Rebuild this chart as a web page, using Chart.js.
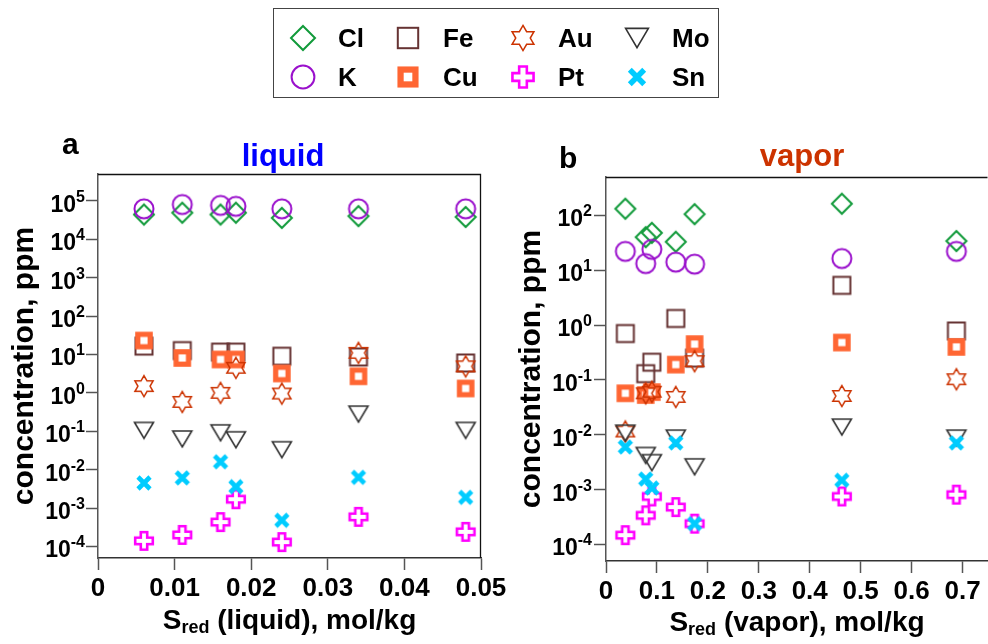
<!DOCTYPE html>
<html>
<head>
<meta charset="utf-8">
<script src="https://cdn.jsdelivr.net/npm/chart.js@4.4.1/dist/chart.umd.min.js"></script>
<style>
  body { margin: 0; background: #fff; width: 988px; height: 644px; overflow: hidden; position: relative;
         font-family: "Liberation Sans", Arial, sans-serif; }
  #chartA { position: absolute; left: 0; top: 0; }
  #chartB { position: absolute; left: 500px; top: 0; }
  #legend { position: absolute; left: 273px; top: 8px; width: 446px; height: 90px;
            border: 1.5px solid #444; box-sizing: border-box; }
  .lab { position: absolute; font-weight: bold; font-size: 26px; line-height: 26px; color: #000; white-space: nowrap; }
  .mk { position: absolute; }
</style>
</head>
<body>
<canvas id="chartA" width="520" height="644"></canvas>
<canvas id="chartB" width="488" height="644"></canvas>
<div id="legend"></div>
<script>
// ---- data ----
const elements = ["Cl", "K", "Fe", "Cu", "Au", "Pt", "Mo", "Sn"];

const xLiquid = [0.006, 0.011, 0.016, 0.018, 0.024, 0.034, 0.048];
const liqCl = [44000, 49000, 44000, 49000, 36000, 40000, 38000];
const liqK  = [62000, 80000, 76000, 72000, 62000, 62000, 62000];
const liqFe = [16.5, 12.6, 11.5, 11.5, 9, 8.6, 6];
const liqCu = [23, 8.1, 7.4, 7.4, 3.2, 2.7, 1.3];
const liqAu = [1.5, 0.58, 1.0, 4.5, 0.96, 11, 4.9];
const liqPt = [0.00014, 0.0002, 0.00043, 0.0017, 0.00013, 0.00059, 0.00024];
const liqMo = [0.105, 0.063, 0.091, 0.06, 0.033, 0.28, 0.105];
const liqSn = [0.0045, 0.0061, 0.016, 0.0036, 0.00048, 0.0063, 0.0019];

const xVapor = [0.038, 0.078, 0.09, 0.137, 0.174, 0.463, 0.688];
const vapCl = [132, 40, 48, 33, 105, 163, 34];
const vapK  = [22, 13.2, 24, 14, 12.9, 16.3, 22];
const vapFe = [0.7, 0.13, 0.21, 1.32, 0.25, 5.3, 0.78];
const vapCu = [0.057, 0.053, 0.06, 0.19, 0.45, 0.48, 0.4];
const vapAu = [0.0115, 0.057, 0.061, 0.049, 0.22, 0.051, 0.103];
const vapPt = [0.000148, 0.00034, 0.00075, 0.00048, 0.00024, 0.00075, 0.00081];
const vapMo = [0.0107, 0.0042, 0.0031, 0.0087, 0.0026, 0.0138, 0.0087];
const vapSn = [0.006, 0.00156, 0.00107, 0.0071, 0.00024, 0.00148, 0.0071];

const liqXTicks = [0, 0.01, 0.02, 0.03, 0.04, 0.05];
const vapXTicks = [0, 0.1, 0.2, 0.3, 0.4, 0.5, 0.6, 0.7];
const liqYTicks = [1e-4, 1e-3, 1e-2, 1e-1, 1e0, 1e1, 1e2, 1e3, 1e4, 1e5];
const vapYTicks = [1e-4, 1e-3, 1e-2, 1e-1, 1e0, 1e1, 1e2];

// ---- marker styles ----
const FONT = '"Liberation Sans", Arial, sans-serif';
Chart.defaults.font.family = FONT;

const colors = { Cl: "#119a3a", K: "#9a10cc", Fe: "#663333", Cu: "#ff6633",
                 Au: "#cc3300", Pt: "#ff00ff", Mo: "#333333", Sn: "#00ccff" };
const zOrder = { Cl: 8, K: 7, Fe: 6, Cu: 5, Au: 4, Mo: 3, Pt: 2, Sn: 1 };

function makeMarker(el, k) {
  const size = Math.ceil(28 * k);
  const cv = document.createElement("canvas");
  cv.width = size; cv.height = size;
  const g = cv.getContext("2d");
  const c = size / 2;
  g.strokeStyle = colors[el];
  g.fillStyle = colors[el];
  g.beginPath();
  if (el === "Cl") {
    const r = 10 * k;
    g.lineWidth = 2;
    g.moveTo(c, c - r); g.lineTo(c + r, c); g.lineTo(c, c + r); g.lineTo(c - r, c); g.closePath();
    g.stroke();
  } else if (el === "K") {
    g.lineWidth = 2;
    g.arc(c, c, 9.5 * k, 0, Math.PI * 2);
    g.stroke();
  } else if (el === "Fe") {
    const h = 8.5 * k;
    g.lineWidth = 2;
    g.strokeRect(c - h, c - h, 2 * h, 2 * h);
  } else if (el === "Cu") {
    const h = 8.8 * k, hole = 3.6 * k;
    g.fillRect(c - h, c - h, 2 * h, 2 * h);
    g.fillStyle = "#fff";
    g.fillRect(c - hole, c - hole, 2 * hole, 2 * hole);
  } else if (el === "Au") {
    const R = 10.5 * k, r = R / Math.sqrt(3);
    g.lineWidth = 1.5;
    for (let i = 0; i < 12; i++) {
      const a = -Math.PI / 2 + i * Math.PI / 6;
      const rr = i % 2 === 0 ? R : r;
      const px = c + rr * Math.cos(a), py = c + rr * Math.sin(a);
      i === 0 ? g.moveTo(px, py) : g.lineTo(px, py);
    }
    g.closePath();
    g.stroke();
  } else if (el === "Mo") {
    const w = 9.5 * k, h = 8 * k;
    g.lineWidth = 1.6;
    g.moveTo(c - w, c - h); g.lineTo(c + w, c - h); g.lineTo(c, c + h); g.closePath();
    g.stroke();
  } else if (el === "Pt") {
    const L = 8.8 * k, a = 3.2 * k;
    g.lineWidth = 2.6;
    const pts = [[-a, -L], [a, -L], [a, -a], [L, -a], [L, a], [a, a], [a, L], [-a, L], [-a, a], [-L, a], [-L, -a], [-a, -a]];
    pts.forEach((p, i) => i === 0 ? g.moveTo(c + p[0], c + p[1]) : g.lineTo(c + p[0], c + p[1]));
    g.closePath();
    g.stroke();
  } else if (el === "Sn") {
    const h = 6 * k;
    g.lineWidth = 4.6 * k;
    g.moveTo(c - h, c - h); g.lineTo(c + h, c + h);
    g.moveTo(c + h, c - h); g.lineTo(c - h, c + h);
    g.stroke();
  }
  return cv;
}

const plotMarkers = {}, legendMarkers = {};
elements.forEach(el => {
  plotMarkers[el] = makeMarker(el, 1);
  legendMarkers[el] = makeMarker(el, 1.2);
});

function buildSets(xs, series) {
  return elements.map(el => ({
    label: el,
    data: xs.map((x, i) => ({ x: x, y: series[el][i] })).filter(p => p.y != null),
    pointStyle: plotMarkers[el],
    pointRadius: 10,
    order: zOrder[el]
  }));
}

// axis titles, panel labels, y tick labels with exponents, top/right frame
const panelText = {
  id: "panelText",
  afterDraw(chart, args, o) {
    const ctx = chart.ctx, ca = chart.chartArea;
    ctx.save();
    ctx.strokeStyle = "#111";
    ctx.lineWidth = 1.3;
    ctx.beginPath();
    ctx.moveTo(ca.left, ca.top + 0.5);
    ctx.lineTo(ca.right - 0.5, ca.top + 0.5);
    if (o.rightBorder) ctx.lineTo(ca.right - 0.5, ca.bottom);
    ctx.stroke();

    ctx.fillStyle = "#000";
    ctx.textBaseline = "alphabetic";
    const ys = chart.scales.y;
    ys.ticks.forEach(t => {
      const y = ys.getPixelForValue(t.value);
      const exp = String(Math.round(Math.log10(t.value)));
      const right = ca.left - o.labelGap;
      ctx.textAlign = "right";
      ctx.font = "bold 16px " + FONT;
      const ew = ctx.measureText(exp).width;
      ctx.fillText(exp, right, y + 1);
      ctx.font = "bold 23px " + FONT;
      ctx.fillText("10", right - ew, y + 11);
    });

    // x title with subscript
    ctx.textAlign = "left";
    const parts = [["S", 28, 0], ["red", 18, 4], [" (" + o.phase + "), mol/kg", 28, 0]];
    let total = 0;
    parts.forEach(p => { ctx.font = "bold " + p[1] + "px " + FONT; p.push(ctx.measureText(p[0]).width); total += p[3]; });
    let x = (ca.left + ca.right) / 2 - total / 2;
    parts.forEach(p => {
      ctx.font = "bold " + p[1] + "px " + FONT;
      ctx.fillText(p[0], x, o.xTitleY + p[2]);
      x += p[3];
    });

    // y title
    ctx.save();
    ctx.translate(o.yTitleX, (ca.top + ca.bottom) / 2);
    ctx.rotate(-Math.PI / 2);
    ctx.textAlign = "center";
    ctx.font = "bold 30px " + FONT;
    ctx.fillText("concentration, ppm", 0, 0);
    ctx.restore();

    // panel letter and title
    ctx.textAlign = "left";
    ctx.font = "bold 30px " + FONT;
    ctx.fillText(o.letter, o.letterX, o.letterY);
    ctx.textAlign = "center";
    ctx.fillStyle = o.titleColor;
    ctx.font = "bold 31px " + FONT;
    ctx.fillText(o.phase, o.titleX, 166);
    ctx.restore();
  }
};

function makeChart(id, sets, xMin, xMax, xTicks, yMax, yTicks, area, textOpts) {
  const cv = document.getElementById(id);
  return new Chart(cv.getContext("2d"), {
    type: "scatter",
    data: { datasets: sets },
    plugins: [panelText],
    options: {
      responsive: false,
      animation: false,
      layout: { autoPadding: false, padding: { top: area.top, right: cv.width - area.right, bottom: 0, left: 0 } },
      plugins: { legend: { display: false }, tooltip: { enabled: false }, panelText: textOpts },
      scales: {
        x: {
          type: "linear", min: xMin, max: xMax,
          afterBuildTicks: s => { s.ticks = xTicks.map(v => ({ value: v })); },
          afterFit: s => { s.height = cv.height - area.bottom; s.paddingLeft = 0; s.paddingRight = 0; },
          ticks: { color: "#000", font: { size: 26, weight: "bold" }, padding: 3, maxRotation: 0, autoSkip: false,
                   callback: v => String(v) },
          grid: { drawOnChartArea: false, drawTicks: true, tickLength: 12, color: "#555", tickWidth: 1.5 },
          border: { display: true, color: "#333", width: 1.5 }
        },
        y: {
          type: "logarithmic", min: 5e-5, max: yMax,
          afterBuildTicks: s => { s.ticks = yTicks.map(v => ({ value: v })); },
          afterFit: s => { s.width = area.left; s.paddingTop = 0; s.paddingBottom = 0; },
          ticks: { display: false },
          grid: { drawOnChartArea: false, drawTicks: true, tickLength: 12, color: "#555", tickWidth: 1.5 },
          border: { display: true, color: "#555", width: 1.5 }
        }
      }
    }
  });
}

makeChart("chartA",
  buildSets(xLiquid, { Cl: liqCl, K: liqK, Fe: liqFe, Cu: liqCu, Au: liqAu, Pt: liqPt, Mo: liqMo, Sn: liqSn }),
  0, 0.05, liqXTicks, 5e5, liqYTicks,
  { left: 98, right: 481, top: 174, bottom: 558 },
  { phase: "liquid", titleColor: "#0000ff", titleX: 283, letter: "a", letterX: 62, letterY: 154,
    labelGap: 13, xTitleY: 629, yTitleX: 33, rightBorder: true });

makeChart("chartB",
  buildSets(xVapor, { Cl: vapCl, K: vapK, Fe: vapFe, Cu: vapCu, Au: vapAu, Pt: vapPt, Mo: vapMo, Sn: vapSn }),
  0, 0.75, vapXTicks, 500, vapYTicks,
  { left: 106, right: 488, top: 177, bottom: 561 },
  { phase: "vapor", titleColor: "#cc3300", titleX: 302, letter: "b", letterX: 59, letterY: 168,
    labelGap: 14, xTitleY: 631, yTitleX: 40, rightBorder: false });

// ---- legend ----
const legendCols = [29, 134, 249, 363];   // marker centres inside the legend box
const legendRows = [29, 68];
const legendLayout = [["Cl", 0, 0], ["Fe", 1, 0], ["Au", 2, 0], ["Mo", 3, 0],
                      ["K", 0, 1], ["Cu", 1, 1], ["Pt", 2, 1], ["Sn", 3, 1]];
const legend = document.getElementById("legend");
legendLayout.forEach(([el, c, r]) => {
  const m = legendMarkers[el];
  m.className = "mk";
  m.style.left = (legendCols[c] - m.width / 2) + "px";
  m.style.top = (legendRows[r] - m.height / 2) + "px";
  legend.appendChild(m);
  const s = document.createElement("span");
  s.className = "lab";
  s.textContent = el;
  s.style.left = (legendCols[c] + 35) + "px";
  s.style.top = (legendRows[r] - 13) + "px";
  legend.appendChild(s);
});
</script>
</body>
</html>
